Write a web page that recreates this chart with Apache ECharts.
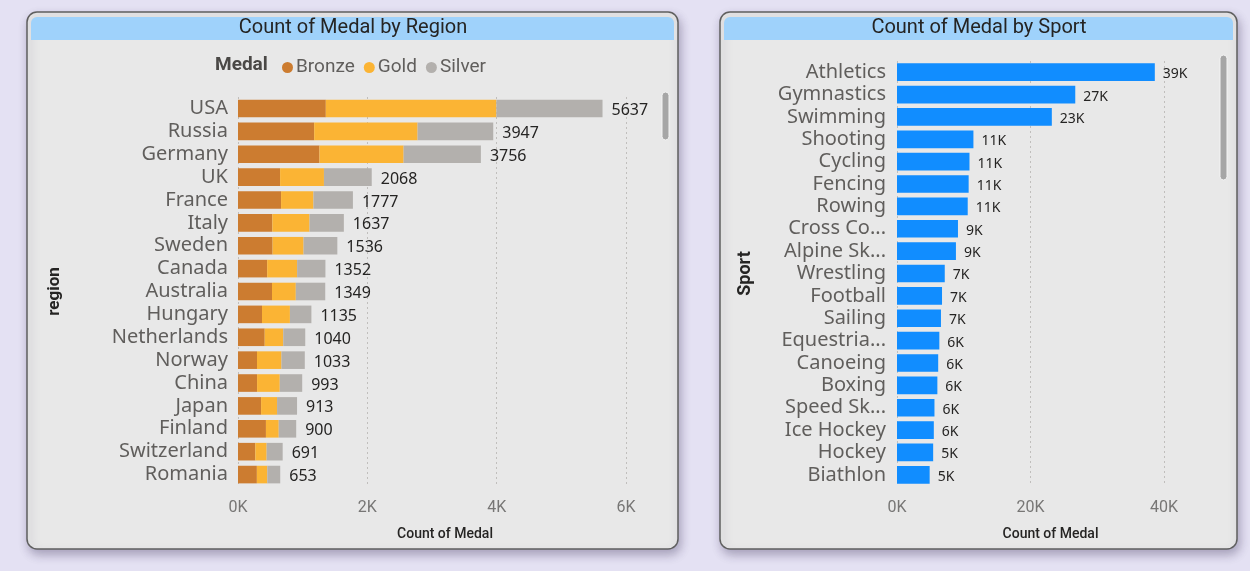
<!DOCTYPE html>
<html><head><meta charset="utf-8">
<script src="https://cdn.jsdelivr.net/npm/echarts@6/dist/echarts.min.js"></script>
<style>html,body{margin:0;padding:0;background:#e4e1f3;} #c{width:1250px;height:571px;}</style>
</head><body><div id="c"></div>
<script>
// ---- Data: Count of Medal by Region ----
const regions = ['USA','Russia','Germany','UK','France','Italy','Sweden','Canada','Australia','Hungary','Netherlands','Norway','China','Japan','Finland','Switzerland','Romania'];
const bronze = [1358,1178,1260,651,666,531,535,451,526,371,413,294,295,357,432,268,292];
const gold   = [2638,1599,1301,678,501,575,479,463,368,432,287,378,351,247,198,175,161];
const silver = [1641,1170,1195,739,610,531,522,438,455,332,340,361,347,309,270,248,200];
const medalNames = ['Bronze','Gold','Silver'];
const regionTicksMax = 6000, regionTickStep = 2000;

// ---- Data: Count of Medal by Sport ----
const sports = ['Athletics','Gymnastics','Swimming','Shooting','Cycling','Fencing','Rowing','Cross Co...','Alpine Sk...','Wrestling','Football','Sailing','Equestria...','Canoeing','Boxing','Speed Sk...','Ice Hockey','Hockey','Biathlon'];
const sportCounts = [38624,26707,23195,11448,10859,10735,10595,9133,8829,7154,6745,6586,6344,6171,6047,5613,5516,5417,4893];
const sportTicksMax = 40000, sportTickStep = 20000;

const totals = regions.map((_, i) => bronze[i] + gold[i] + silver[i]);

const UI = '"Noto Sans", "Open Sans", sans-serif';
const DIN = 'Roboto, "DejaVu Sans", sans-serif';
const kFmt = v => (v / 1000) + 'K';

const chart = echarts.init(document.getElementById('c'), null, {renderer: 'canvas'});

const panelStyle = {fill: '#e8e8e8', stroke: '#5f5f5f', lineWidth: 1.5, shadowBlur: 10, shadowOffsetX: 2, shadowOffsetY: 5, shadowColor: 'rgba(60,50,90,0.35)'};

const option = {
  backgroundColor: '#e4e1f3',
  animation: false,
  graphic: [
    {type: 'rect', z: -10, shape: {x: 27, y: 12, width: 651, height: 537, r: 10}, style: panelStyle},
    {type: 'rect', z: -9, shape: {x: 31, y: 17, width: 643, height: 23, r: [6, 6, 0, 0]}, style: {fill: '#9fd2fb'}},
    {type: 'text', z: 5, x: 353, y: 28, style: {text: 'Count of Medal by Region', font: '20px ' + DIN, fill: '#252423', textAlign: 'center', textVerticalAlign: 'middle'}},
    {type: 'rect', z: -10, shape: {x: 720, y: 12, width: 517, height: 537, r: 10}, style: panelStyle},
    {type: 'rect', z: -9, shape: {x: 724, y: 17, width: 509, height: 23, r: [6, 6, 0, 0]}, style: {fill: '#9fd2fb'}},
    {type: 'text', z: 5, x: 979, y: 28, style: {text: 'Count of Medal by Sport', font: '20px ' + DIN, fill: '#252423', textAlign: 'center', textVerticalAlign: 'middle'}},
    {type: 'text', z: 5, x: 215, y: 65, style: {text: 'Medal', font: 'bold 19px ' + DIN, fill: '#4a4846', textVerticalAlign: 'middle'}},
    {type: 'rect', z: 5, shape: {x: 662, y: 92, width: 7, height: 48, r: 3.5}, style: {fill: '#a6a6a6', stroke: '#f4f4f4', lineWidth: 1}},
    {type: 'rect', z: 5, shape: {x: 1220, y: 55, width: 7, height: 125, r: 3.5}, style: {fill: '#a6a6a6', stroke: '#f4f4f4', lineWidth: 1}}
  ],
  legend: {
    data: medalNames,
    icon: 'circle',
    itemWidth: 11, itemHeight: 11, itemGap: 9,
    left: 277, top: 53,
    textStyle: {fontFamily: DIN, fontSize: 19, color: '#605e5c', padding: [0, 0, 0, -2]}
  },
  grid: [
    {left: 238, top: 97, width: 388, height: 389, containLabel: false},
    {left: 897, top: 61, width: 267, height: 425, containLabel: false}
  ],
  xAxis: [
    {gridIndex: 0, type: 'value', min: 0, max: regionTicksMax, interval: regionTickStep,
     axisLine: {show: false}, axisTick: {show: false},
     axisLabel: {formatter: kFmt, color: '#777675', fontFamily: DIN, fontSize: 16, margin: 14},
     splitLine: {show: true, lineStyle: {color: '#c0bebc', type: [2, 3], width: 1}},
     name: 'Count of Medal', nameLocation: 'middle', nameGap: 41,
     nameTextStyle: {fontFamily: DIN, fontSize: 14, fontWeight: 500, color: '#252423', padding: [0, 0, 0, 26]}},
    {gridIndex: 1, type: 'value', min: 0, max: sportTicksMax, interval: sportTickStep,
     axisLine: {show: false}, axisTick: {show: false},
     axisLabel: {formatter: kFmt, color: '#777675', fontFamily: DIN, fontSize: 16, margin: 14},
     splitLine: {show: true, lineStyle: {color: '#c0bebc', type: [2, 3], width: 1}},
     name: 'Count of Medal', nameLocation: 'middle', nameGap: 41,
     nameTextStyle: {fontFamily: DIN, fontSize: 14, fontWeight: 500, color: '#252423', padding: [0, 0, 0, 40]}}
  ],
  yAxis: [
    {gridIndex: 0, type: 'category', data: regions, inverse: true,
     axisLine: {show: false}, axisTick: {show: false},
     axisLabel: {interval: 0, color: '#605e5c', fontFamily: UI, fontSize: 20, margin: 10},
     name: 'region', nameLocation: 'middle', nameGap: 175, nameRotate: 90,
     nameTextStyle: {fontFamily: DIN, fontSize: 17, fontWeight: 'bold', color: '#252423'}},
    {gridIndex: 1, type: 'category', data: sports, inverse: true,
     axisLine: {show: false}, axisTick: {show: false},
     axisLabel: {interval: 0, color: '#605e5c', fontFamily: UI, fontSize: 20, margin: 11},
     name: 'Sport', nameLocation: 'middle', nameGap: 143, nameRotate: 90,
     nameTextStyle: {fontFamily: DIN, fontSize: 18, fontWeight: 'bold', color: '#252423'}}
  ],
  series: [
    {name: 'Bronze', type: 'bar', stack: 'm', xAxisIndex: 0, yAxisIndex: 0, data: bronze, barCategoryGap: '23%',
     itemStyle: {color: '#cc7c30'}},
    {name: 'Gold', type: 'bar', stack: 'm', xAxisIndex: 0, yAxisIndex: 0, data: gold,
     itemStyle: {color: '#fbb434'}},
    {name: 'Silver', type: 'bar', stack: 'm', xAxisIndex: 0, yAxisIndex: 0, data: silver,
     itemStyle: {color: '#b3b0ad'},
     label: {show: true, position: 'right', distance: 9, offset: [0, 2], formatter: p => totals[p.dataIndex],
             fontFamily: UI, fontSize: 16, color: '#252423'}},
    {name: 'Count of Medal', type: 'bar', xAxisIndex: 1, yAxisIndex: 1, data: sportCounts, barCategoryGap: '21%',
     itemStyle: {color: '#118dff'},
     label: {show: true, position: 'right', distance: 8, offset: [0, 2], formatter: p => Math.round(p.value / 1000) + 'K',
             fontFamily: UI, fontSize: 14, color: '#252423'}}
  ]
};
chart.setOption(option);
</script>
</body></html>
